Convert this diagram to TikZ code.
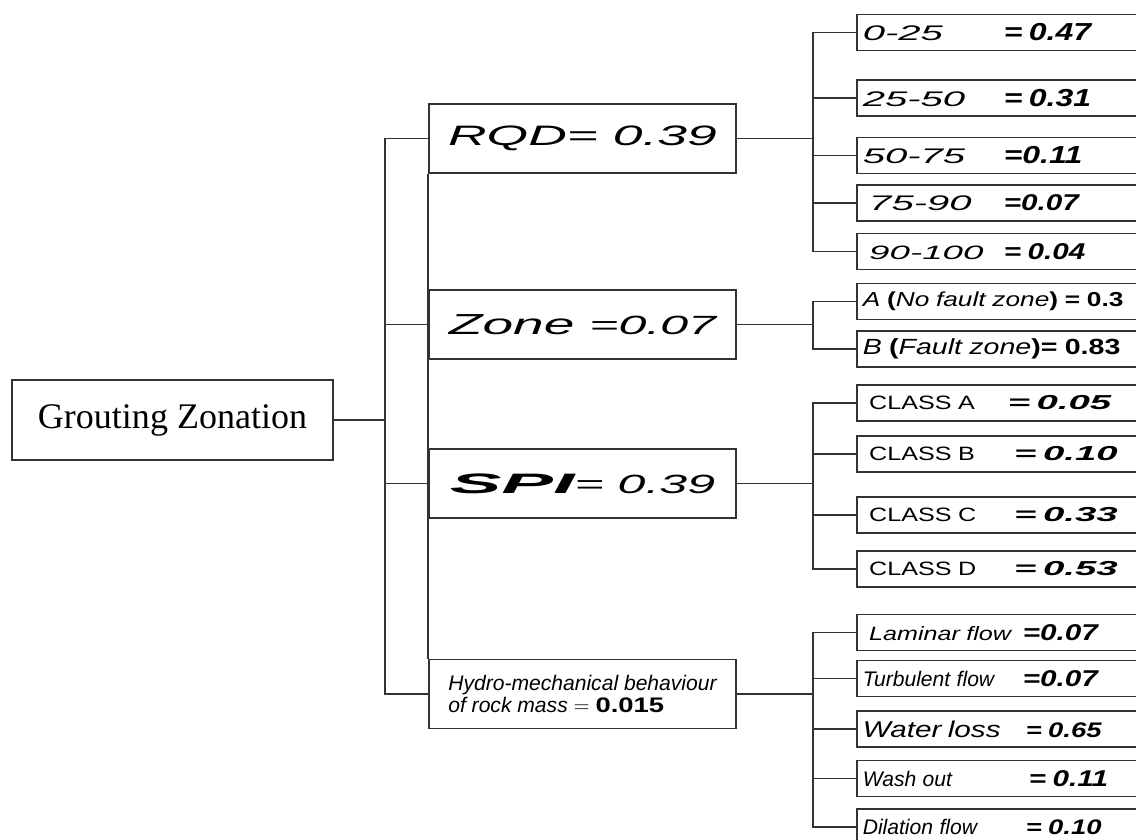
\documentclass[tikz,border=0pt]{standalone}
\usepackage{fontspec}
\setmainfont{Liberation Sans}
\newfontfamily\rootfont{Liberation Serif}
\newfontfamily\midfont[FakeStretch=1.9]{Liberation Sans}
\newfontfamily\subfont[FakeStretch=1.3]{Liberation Sans}
\newcommand{\fs}[1]{\fontsize{#1}{#1}\selectfont}
\newcommand{\pair}[3]{\makebox[#1][l]{#2}{#3}}
\tikzset{
  link/.style={draw=black!80,line width=0.9pt},
  basebox/.style={rectangle,draw=black!80,line width=0.9pt},
  rootbox/.style={basebox,minimum width=6.42cm,minimum height=1.6cm,font=\rootfont\fs{20.5}},
  critbox/.style={basebox,minimum width=6.14cm,minimum height=1.38cm,inner sep=0pt,font=\midfont\itshape\fs{16}},
  leafbox/.style={basebox,anchor=west,text width=6cm,inner xsep=0.12cm,inner ysep=0pt,minimum height=0.72cm,align=left,font=\subfont\itshape\fs{11}}
}

\begin{document}
\begin{tikzpicture}[x=0.02cm,y=-0.02cm]
  \useasboundingbox (0,0) rectangle (1136,839);
  \clip (0,0) rectangle (1136,839);

  \node[rootbox] (root) at (172.5,420) {Grouting Zonation};

  \node[critbox] (rqd) at (582.5,138.5) {RQD= 0.39};
  \node[critbox] (zone) at (582.5,324.5) {{\fs{16.5}Zone} {\fs{15}=0.07}};
  \node[critbox] (spi) at (582.5,483.5) {\scalebox{1.45}[1]{\bfseries SPI}{\midfont\fs{15}= 0.39}};
  \node[critbox,font=\rmfamily\itshape\fontsize{12}{10.8}\selectfont,align=left] (hyd) at (582.5,694) {Hydro-mechanical behaviour\\of rock mass $=$ {\subfont\bfseries\upshape 0.015}};

  \node[leafbox] (r1) at (856,32.5) {\pair{2.82cm}{\midfont\fs{12}0-25}{\bfseries\fs{14}= 0.47}};
  \node[leafbox] (r2) at (856,98) {\pair{2.82cm}{\midfont\fs{12}25-50}{\bfseries\fs{14}= 0.31}};
  \node[leafbox] (r3) at (856,155.5) {\pair{2.82cm}{\midfont\fs{12}50-75}{\bfseries\fs{14}=0.11}};
  \node[leafbox] (r4) at (856,203) {\pair{2.82cm}{\midfont\fs{12}\ 75-90}{\bfseries\fs{13}=0.07}};
  \node[leafbox] (r5) at (856,251.5) {\pair{2.82cm}{\midfont\fs{11}\ 90-100}{\bfseries\fs{13}= 0.04}};

  \node[leafbox,font=\subfont\itshape\fs{11.5}] (z1) at (856,301.5) {A {\bfseries\upshape(}No fault zone{\bfseries\upshape) = 0.3}};
  \node[leafbox,font=\subfont\itshape\fs{12.5}] (z2) at (856,349) {B {\bfseries\upshape(}Fault zone{\bfseries\upshape)= 0.83}};

  \node[leafbox] (c1) at (856,403) {\pair{2.9cm}{\upshape\ CLASS A}{\midfont\bfseries\fs{11.5}= 0.05}};
  \node[leafbox] (c2) at (856,454) {\pair{2.9cm}{\upshape\ CLASS B}{\midfont\bfseries\fs{11.5}\ = 0.10}};
  \node[leafbox] (c3) at (856,515) {\pair{2.9cm}{\upshape\ CLASS C}{\midfont\bfseries\fs{11.5}\ = 0.33}};
  \node[leafbox] (c4) at (856,569) {\pair{2.9cm}{\upshape\ CLASS D}{\midfont\bfseries\fs{11.5}\ = 0.53}};

  \node[leafbox] (h1) at (856,632.5) {\pair{3.2cm}{\ Laminar flow}{\bfseries\fs{13}=0.07}};
  \node[leafbox] (h2) at (856,678.5) {\pair{3.2cm}{\rmfamily\fs{12}Turbulent flow}{\bfseries\fs{13}=0.07}};
  \node[leafbox] (h3) at (856,729) {\pair{3.26cm}{\fs{13}Water loss}{\bfseries\fs{12}= 0.65}};
  \node[leafbox] (h4) at (856,778.5) {\pair{3.32cm}{\rmfamily\fs{12}Wash out}{\bfseries\fs{13}= 0.11}};
  \node[leafbox] (h5) at (856,827) {\pair{3.26cm}{\rmfamily\fs{12}Dilation flow}{\bfseries\fs{12}= 0.10}};

  \foreach \c in {rqd,zone,spi,hyd} \draw[link] (root.east) -- ++(51,0) |- (\c.west);
  \foreach \c in {r1,r2,r3,r4,r5} \draw[link] (rqd.east) -- ++(76,0) |- (\c.west);
  \foreach \c in {z1,z2} \draw[link] (zone.east) -- ++(76,0) |- (\c.west);
  \foreach \c in {c1,c2,c3,c4} \draw[link] (spi.east) -- ++(76,0) |- (\c.west);
  \foreach \c in {h1,h2,h3,h4,h5} \draw[link] (hyd.east) -- ++(76,0) |- (\c.west);
  \draw[link] (rqd.south west) -- (hyd.north west);
\end{tikzpicture}
\end{document}
